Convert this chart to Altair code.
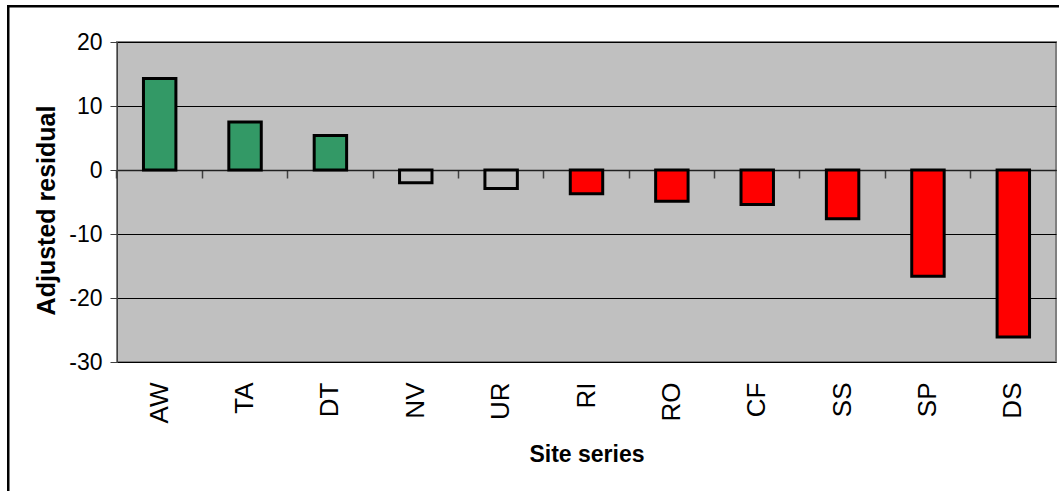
import altair as alt
import pandas as pd

# Adjusted residuals per site series, ordered from most over- to most under-represented
sites = ["AW", "TA", "DT", "NV", "UR", "RI", "RO", "CF", "SS", "SP", "DS"]
residuals = [14.3, 7.5, 5.4, -2.0, -2.9, -3.7, -4.9, -5.4, -7.6, -16.6, -26.1]
direction = ["over", "over", "over", "ns", "ns", "under", "under", "under", "under", "under", "under"]
y_ticks = [-30, -20, -10, 0, 10, 20]

df = pd.DataFrame({"site": sites, "residual": residuals, "direction": direction})

FONT = "Liberation Sans, Arial"

PAD_INNER = 0.62
x_scale = alt.Scale(domain=sites, paddingInner=PAD_INNER, paddingOuter=PAD_INNER / 2)
y_scale = alt.Scale(domain=[-30, 20], nice=False, zero=False)

base = alt.Chart(df)

bars = base.mark_bar(stroke="black", strokeWidth=3).encode(
    x=alt.X(
        "site:N",
        sort=sites,
        scale=x_scale,
        axis=alt.Axis(
            orient="bottom",
            domain=False,
            ticks=False,
            tickSize=0,
            labelAngle=270,
            labelAlign="right",
            labelBaseline="middle",
            labelPadding=20,
            labelFont=FONT,
            labelFontSize=26,
            labelColor="black",
            title="Site series",
            titleFont=FONT,
            titleFontSize=23,
            titleFontWeight="bold",
            titleColor="black",
            titleY=92,
            titleBaseline="middle",
        ),
    ),
    y=alt.Y(
        "residual:Q",
        scale=y_scale,
        axis=alt.Axis(
            values=y_ticks,
            labelExpr="datum.value + ''",
            grid=True,
            gridColor="black",
            gridWidth=1,
            domainColor="#404040",
            domainWidth=1,
            tickColor="#404040",
            tickSize=7,
            labelPadding=8,
            labelFont=FONT,
            labelFontSize=23,
            labelColor="black",
            labelFlush=False,
            labelOverlap=False,
            title="Adjusted residual",
            titleFont=FONT,
            titleFontSize=25,
            titleFontWeight="bold",
            titleColor="black",
            titleAngle=270,
            titleAlign="center",
            titleBaseline="middle",
            titleX=-71,
            titleY=168,
        ),
    ),
    fill=alt.Fill(
        "direction:N",
        scale=alt.Scale(domain=["over", "ns", "under"], range=["#339966", "#C0C0C0", "#FF0000"]),
        legend=None,
    ),
)

# Category axis drawn along the zero line, ticks on the boundaries between series
zero_axis = base.mark_point(opacity=0).encode(
    x=alt.X(
        "site:N",
        sort=sites,
        scale=x_scale,
        axis=alt.Axis(
            orient="bottom",
            offset=-192,
            labels=False,
            title=None,
            domain=True,
            domainColor="#202020",
            domainWidth=1.5,
            ticks=True,
            tickSize=8,
            tickColor="#404040",
            tickWidth=1.5,
            bandPosition=-PAD_INNER / (2 * (1 - PAD_INNER)),
            grid=False,
        ),
    ),
)

# Outer frame around the chart area
frame = alt.Chart(pd.DataFrame({"k": [0]})).mark_rect(
    fillOpacity=0, stroke="black", strokeWidth=2.5
).encode(
    x=alt.value(-108.75),
    x2=alt.value(960),
    y=alt.value(-35.75),
    y2=alt.value(470),
)

chart = (
    alt.layer(frame, zero_axis, bars)
    .resolve_axis(x="independent")
    .properties(
        width=939,
        height=320,
        autosize=alt.AutoSizeParams(type="none"),
        padding={"left": 117, "top": 42, "right": 3, "bottom": 129},
        background="white",
    )
    .configure_view(fill="#C0C0C0", stroke="#808080", strokeWidth=2)
)

chart.save("out.html", embed_options={"renderer": "svg", "actions": False})
